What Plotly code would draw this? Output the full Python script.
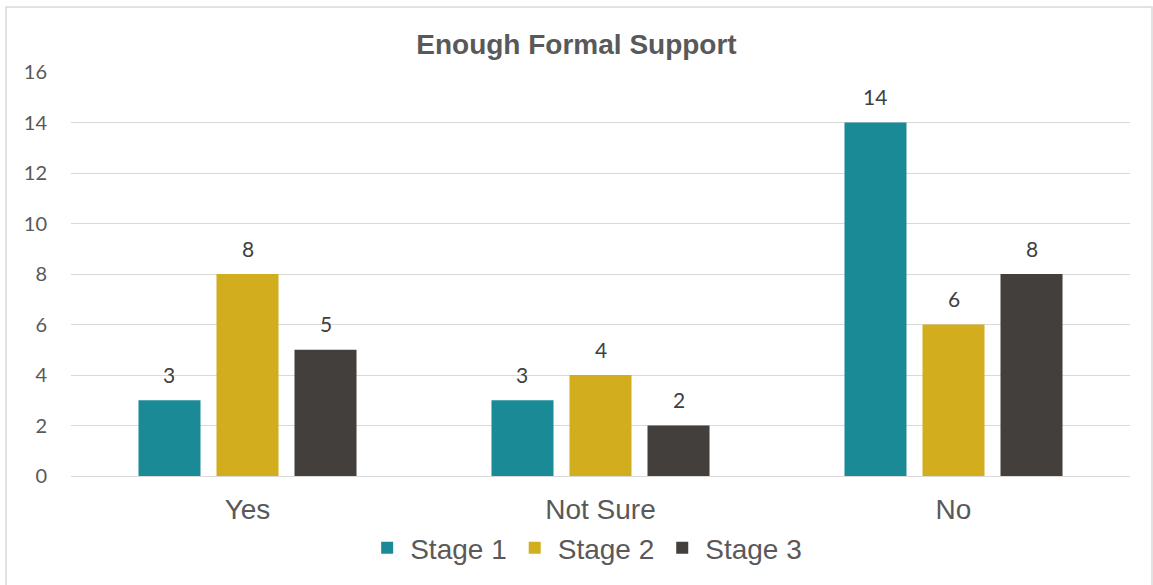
import plotly.graph_objects as go

categories = ["Yes", "Not Sure", "No"]
series_names = ["Stage 1", "Stage 2", "Stage 3"]
stage1 = [3, 3, 14]
stage2 = [8, 4, 6]
stage3 = [5, 2, 8]
colors = ["#1A8A96", "#D2AE1F", "#433F3C"]

values = [stage1, stage2, stage3]

fig = go.Figure()
for name, vals, col in zip(series_names, values, colors):
    fig.add_trace(go.Bar(name=name, x=categories, y=vals, marker=dict(color=col, line=dict(width=0))))

# value labels above each bar
offsets = [-0.221, 0.0, 0.221]
annotations = []
for vals, off in zip(values, offsets):
    for i, v in enumerate(vals):
        annotations.append(dict(x=i + off, y=v, xref="x", yref="y", text=str(v), showarrow=False,
                                yshift=26, font=dict(family="Lato", size=21, color="#404040")))

L, R, T, B = 71, 23, 72, 109
W, H = 1153, 585
pw, ph = W - L - R, H - T - B

fig.update_layout(
    width=W, height=H,
    margin=dict(l=L, r=R, t=T, b=B),
    paper_bgcolor="white", plot_bgcolor="white",
    barmode="group", bargap=0.337, bargroupgap=0.205,
    title=dict(text="<b>Enough Formal Support</b>", x=0.5, xanchor="center", y=1 - 44 / H, yanchor="middle",
               font=dict(family="Arial", size=28, color="#595959")),
    legend=dict(orientation="h", x=0.486, xanchor="center", y=(-(548 - (T + ph)) / ph), yanchor="middle",
                font=dict(family="Arial", size=28, color="#595959"), itemwidth=36,
                traceorder="normal"),
    annotations=annotations,
    shapes=[dict(type="rect", xref="paper", yref="paper",
                 x0=(6 - L) / pw, x1=(1152 - L) / pw, y0=-(590 - (T + ph)) / ph, y1=1 + (T - 7) / ph,
                 line=dict(color="#D9D9D9", width=1.5), fillcolor="rgba(0,0,0,0)", layer="below")],
)
fig.update_xaxes(type="category", range=[-0.5, 2.5], showgrid=False, showline=False, ticks="",
                 ticklabelstandoff=14, tickfont=dict(family="Arial", size=28, color="#595959"))
fig.update_yaxes(range=[0, 16], dtick=2, showgrid=True, gridcolor="#D9D9D9", gridwidth=1.3,
                 zeroline=True, zerolinecolor="#D9D9D9", zerolinewidth=1.3, showline=False, ticks="",
                 ticklabelstandoff=23, tickfont=dict(family="Lato", size=20, color="#595959"))

fig.write_html("out.html")
